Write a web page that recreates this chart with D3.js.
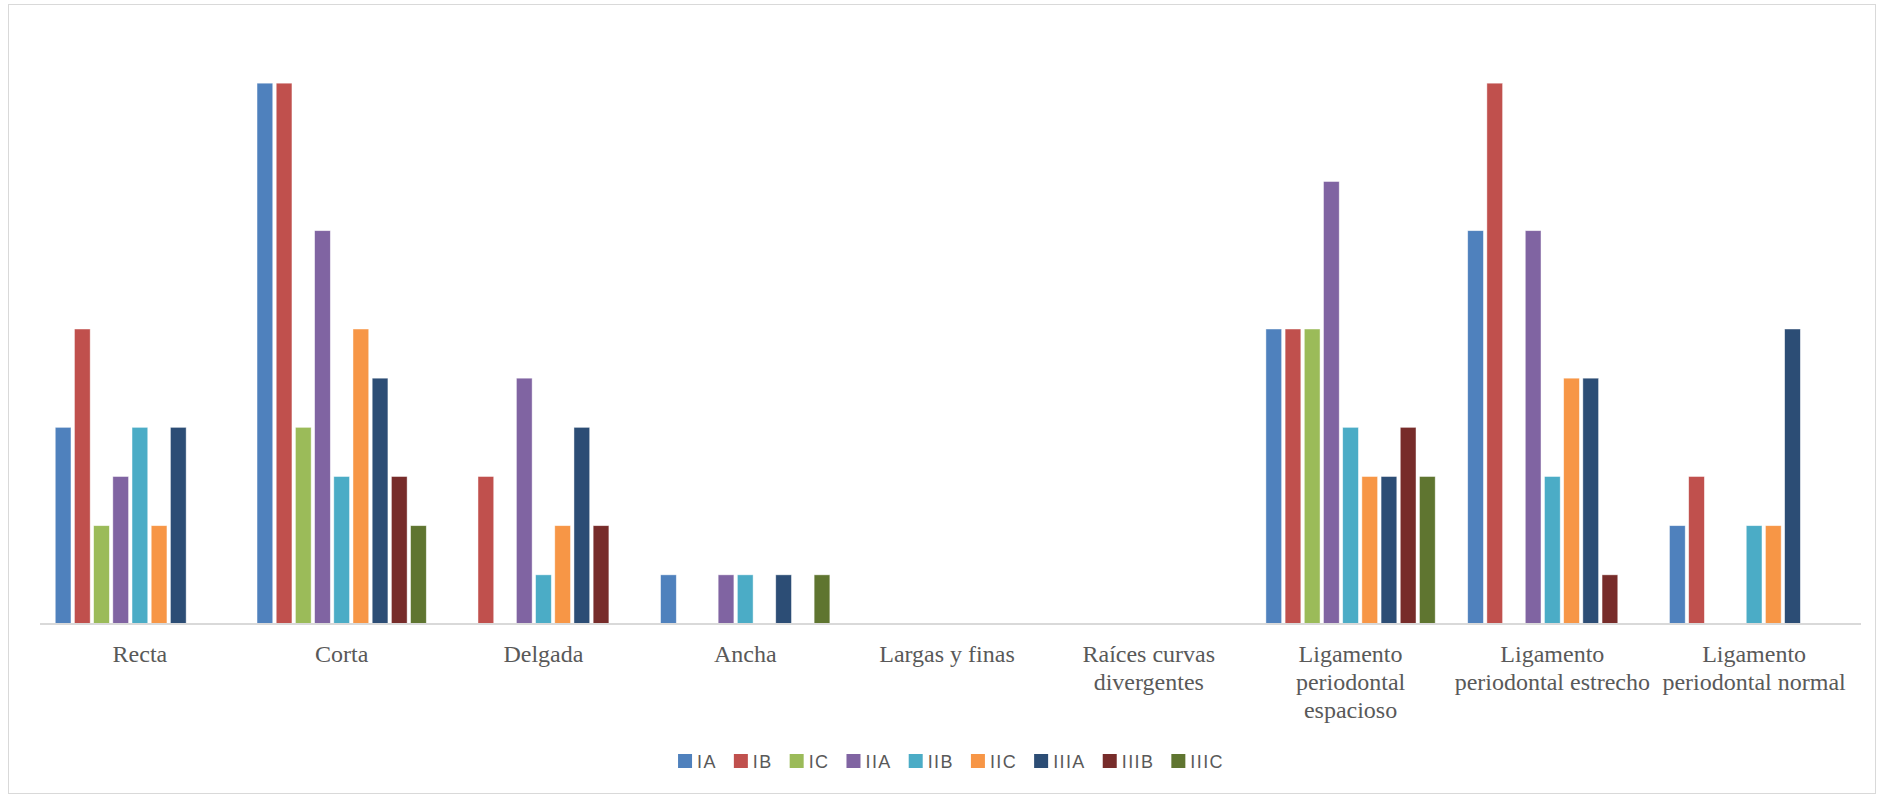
<!DOCTYPE html>
<html>
<head>
<meta charset="utf-8">
<script src="https://cdn.jsdelivr.net/npm/d3@7"></script>
<style>
  body { margin: 0; background: #fff; }
  svg { display: block; }
</style>
</head>
<body>
<div id="chart"></div>
<script>
// categories and series
var categories = ['Recta', 'Corta', 'Delgada', 'Ancha', 'Largas y finas',
  'Raíces curvas divergentes', 'Ligamento periodontal espacioso',
  'Ligamento periodontal estrecho', 'Ligamento periodontal normal']
var seriesNames = ['IA', 'IB', 'IC', 'IIA', 'IIB', 'IIC', 'IIIA', 'IIIB', 'IIIC']
var seriesColors = ['#4F81BD', '#C0504D', '#9BBB59', '#8064A2', '#4BACC6',
  '#F79646', '#2C4D75', '#772C2A', '#5F7530']

// one array per series, in category order
var IA   = [4, 11, 0, 1, 0, 0, 6, 8, 2]
var IB   = [6, 11, 3, 0, 0, 0, 6, 11, 3]
var IC   = [2, 4, 0, 0, 0, 0, 6, 0, 0]
var IIA  = [3, 8, 5, 1, 0, 0, 9, 8, 0]
var IIB  = [4, 3, 1, 1, 0, 0, 4, 3, 2]
var IIC  = [2, 6, 2, 0, 0, 0, 3, 5, 2]
var IIIA = [4, 5, 4, 1, 0, 0, 3, 5, 6]
var IIIB = [0, 3, 2, 0, 0, 0, 4, 1, 0]
var IIIC = [0, 2, 0, 1, 0, 0, 3, 0, 0]
var seriesValues = [IA, IB, IC, IIA, IIB, IIC, IIIA, IIIB, IIIC]

var W = 1883, H = 795
var margin = {top: 34, left: 39, right: 28, bottom: 171}

var svg = d3.select('#chart').append('svg')
    .attr('width', W)
    .attr('height', H)

// chart border
svg.append('rect')
    .attr('x', 8.5).attr('y', 4.5)
    .attr('width', 1867).attr('height', 789)
    .attr('fill', '#fff')
    .attr('stroke', '#D9D9D9')
    .attr('stroke-width', 1)

var x0 = d3.scaleBand()
    .domain(categories)
    .range([margin.left, W - margin.right])
    .paddingInner(0.161)
    .paddingOuter(0.0805)

var x1 = d3.scaleBand()
    .domain(seriesNames)
    .range([0, x0.bandwidth()])
    .paddingInner(0.18)

var y = d3.scaleLinear()
    .domain([0, 12])
    .range([H - margin.bottom, margin.top])

var rows = []
categories.forEach(function (c, ci) {
  seriesNames.forEach(function (s, si) {
    rows.push({cat: c, series: s, value: seriesValues[si][ci], color: seriesColors[si]})
  })
})

svg.append('g').selectAll('rect')
    .data(rows.filter(function (d) { return d.value > 0 }))
  .enter().append('rect')
    .attr('x', function (d) { return x0(d.cat) + x1(d.series) })
    .attr('y', function (d) { return y(d.value) })
    .attr('width', x1.bandwidth())
    .attr('height', function (d) { return y(0) - y(d.value) })
    .attr('fill', function (d) { return d.color })
    .attr('stroke', '#fff')
    .attr('stroke-opacity', 0.6)
    .attr('stroke-width', 0.75)

// baseline axis
var xAxis = d3.axisBottom(x0).tickSize(0).tickPadding(0)
var gx = svg.append('g')
    .attr('transform', 'translate(0,' + y(0) + ')')
    .call(xAxis)
gx.select('.domain').remove()
gx.selectAll('.tick text').remove()
gx.append('line')
    .attr('x1', 40).attr('x2', 1861)
    .attr('stroke', '#D9D9D9')
    .attr('stroke-width', 2)

// wrapped category labels
var labelFont = '24px "Liberation Serif", "Times New Roman", serif'
gx.selectAll('.tick').each(function (c) {
  var t = d3.select(this).append('text')
      .attr('text-anchor', 'middle')
      .attr('fill', '#595959')
      .style('font', labelFont)
      .attr('y', 38)
  var words = c.split(' '), line = []
  var tspan = t.append('tspan').attr('x', 0).attr('dy', 0)
  words.forEach(function (w) {
    line.push(w)
    tspan.text(line.join(' '))
    if (tspan.node().getComputedTextLength() > 200 && line.length > 1) {
      line.pop()
      tspan.text(line.join(' '))
      line = [w]
      tspan = t.append('tspan').attr('x', 0).attr('dy', 28).text(w)
    }
  })
})

// legend
var legendFont = '18px "Liberation Sans", Arial, sans-serif'
var legend = svg.append('g')
var lx = 0
seriesNames.forEach(function (s, i) {
  var g = legend.append('g').attr('transform', 'translate(' + lx + ',0)')
  g.append('rect')
      .attr('x', 0).attr('y', -7)
      .attr('width', 14).attr('height', 14)
      .attr('fill', seriesColors[i])
  var tx = g.append('text')
      .attr('x', 19).attr('y', 7)
      .attr('fill', '#595959')
      .style('font', legendFont)
      .style('letter-spacing', '1.4px')
      .text(s)
  lx += 19 + tx.node().getComputedTextLength() + 17
})
lx -= 17
legend.attr('transform', 'translate(' + (951 - lx / 2) + ',761)')
</script>
</body>
</html>
